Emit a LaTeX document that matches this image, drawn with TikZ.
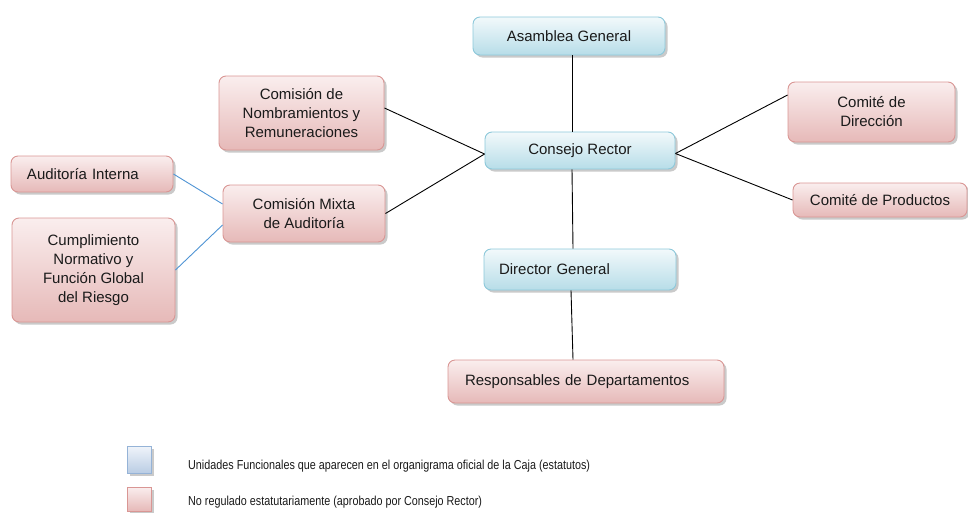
\documentclass[tikz,border=0pt]{standalone}
\usepackage{fontspec}
\setmainfont{Liberation Sans}
\newfontfamily\legfont{Liberation Sans}[FakeStretch=0.83]
\usetikzlibrary{shadows}
\definecolor{btop}{HTML}{F2F9FB}
\definecolor{bbot}{HTML}{B7DDE8}
\definecolor{bbord}{HTML}{8CC8DA}
\definecolor{ptop}{HTML}{FAEEEE}
\definecolor{pbot}{HTML}{E6B9B8}
\definecolor{pbord}{HTML}{D99694}
\definecolor{lbtop}{HTML}{F0F4FA}
\definecolor{lbbot}{HTML}{BACDE4}
\definecolor{lbbord}{HTML}{95B3D7}
\definecolor{bline}{HTML}{4F94D4}
\definecolor{txt}{HTML}{1A1A1A}
\tikzset{
  box/.style={rounded corners=7pt, line width=0.9pt, align=center, inner sep=0pt,
    text=txt, font=\fontsize{15}{19}\selectfont,
    drop shadow={shadow xshift=2.5pt, shadow yshift=-2.5pt, opacity=0.35, fill=black!60}},
  bluebox/.style={box, draw=bbord, top color=btop, bottom color=bbot},
  pinkbox/.style={box, draw=pbord, top color=ptop, bottom color=pbot},
  conn/.style={draw=black, line width=0.9pt},
  bconn/.style={draw=bline, line width=0.9pt},
  legtext/.style={anchor=west, inner sep=0pt, text=txt, font=\legfont\fontsize{13}{16}\selectfont},
}
\begin{document}
\begin{tikzpicture}[x=1pt,y=-1pt]
\useasboundingbox (0,0) rectangle (968,512);
% boxes
\node[bluebox, minimum width=192pt, minimum height=38pt] (ag) at (569,36) {Asamblea General};
\node[bluebox, minimum width=190pt, minimum height=37pt] (cr) at (580,150.5) {Consejo Rector};
\node[bluebox, minimum width=192pt, minimum height=41pt, inner xsep=15pt, text width=162pt, align=left] (dg) at (580,269.5) {Director General};
\node[pinkbox, minimum width=276pt, minimum height=43pt, inner xsep=17pt, text width=242pt, align=left] (rd) at (586,381.5) {Responsables de Departamentos};
\node[pinkbox, minimum width=165pt, minimum height=74pt] (nom) at (301.5,113) {Comisión de\\Nombramientos y\\Remuneraciones};
\node[pinkbox, minimum width=162pt, minimum height=57pt] (cma) at (304,213.5) {Comisión Mixta\\de Auditoría};
\node[pinkbox, minimum width=162pt, minimum height=36pt, inner xsep=16pt, text width=130pt, align=left] (ai) at (92,174) {Auditoría Interna};
\node[pinkbox, minimum width=163pt, minimum height=104pt] (cum) at (93.5,270) {Cumplimiento\\Normativo y\\Función Global\\del Riesgo};
\node[pinkbox, minimum width=167pt, minimum height=60pt] (cdd) at (871.5,112) {Comité de\\Dirección};
\node[pinkbox, minimum width=174pt, minimum height=34pt] (cdp) at (880,200) {Comité de Productos};
% connectors
\draw[conn] ([xshift=3pt]ag.south) -- ([xshift=-8pt]cr.north);
\draw[conn] ([xshift=-8pt]cr.south) -- ([xshift=-7pt]dg.north);
\draw[conn] ([xshift=-9pt]dg.south) -- ([xshift=-13pt]rd.north);
\draw[conn] ([yshift=5pt]nom.east) -- ([yshift=-3.5pt]cr.west);
\draw[conn] (cma.east) -- ([yshift=-3.5pt]cr.west);
\draw[conn] ([yshift=-3pt]cr.east) -- ([yshift=17pt]cdd.west);
\draw[conn] ([yshift=-3pt]cr.east) -- (cdp.west);
\draw[bconn] (ai.east) -- ([yshift=9.5pt]cma.west);
\draw[bconn] (cum.east) -- ([yshift=-11.5pt]cma.west);
% legend
\node[box, rounded corners=0pt, draw=lbbord, top color=lbtop, bottom color=lbbot, minimum width=24pt, minimum height=27pt] (lb) at (139,459.5) {};
\node[box, rounded corners=0pt, draw=pbord, top color=ptop, bottom color=pbot, minimum width=24pt, minimum height=24pt] (lp) at (139,499) {};
\node[legtext] (lt1) at (188,466) {Unidades Funcionales que aparecen en el organigrama oficial de la Caja (estatutos)};
\node[legtext] (lt2) at (188,502) {No regulado estatutariamente (aprobado por Consejo Rector)};
\end{tikzpicture}
\end{document}
